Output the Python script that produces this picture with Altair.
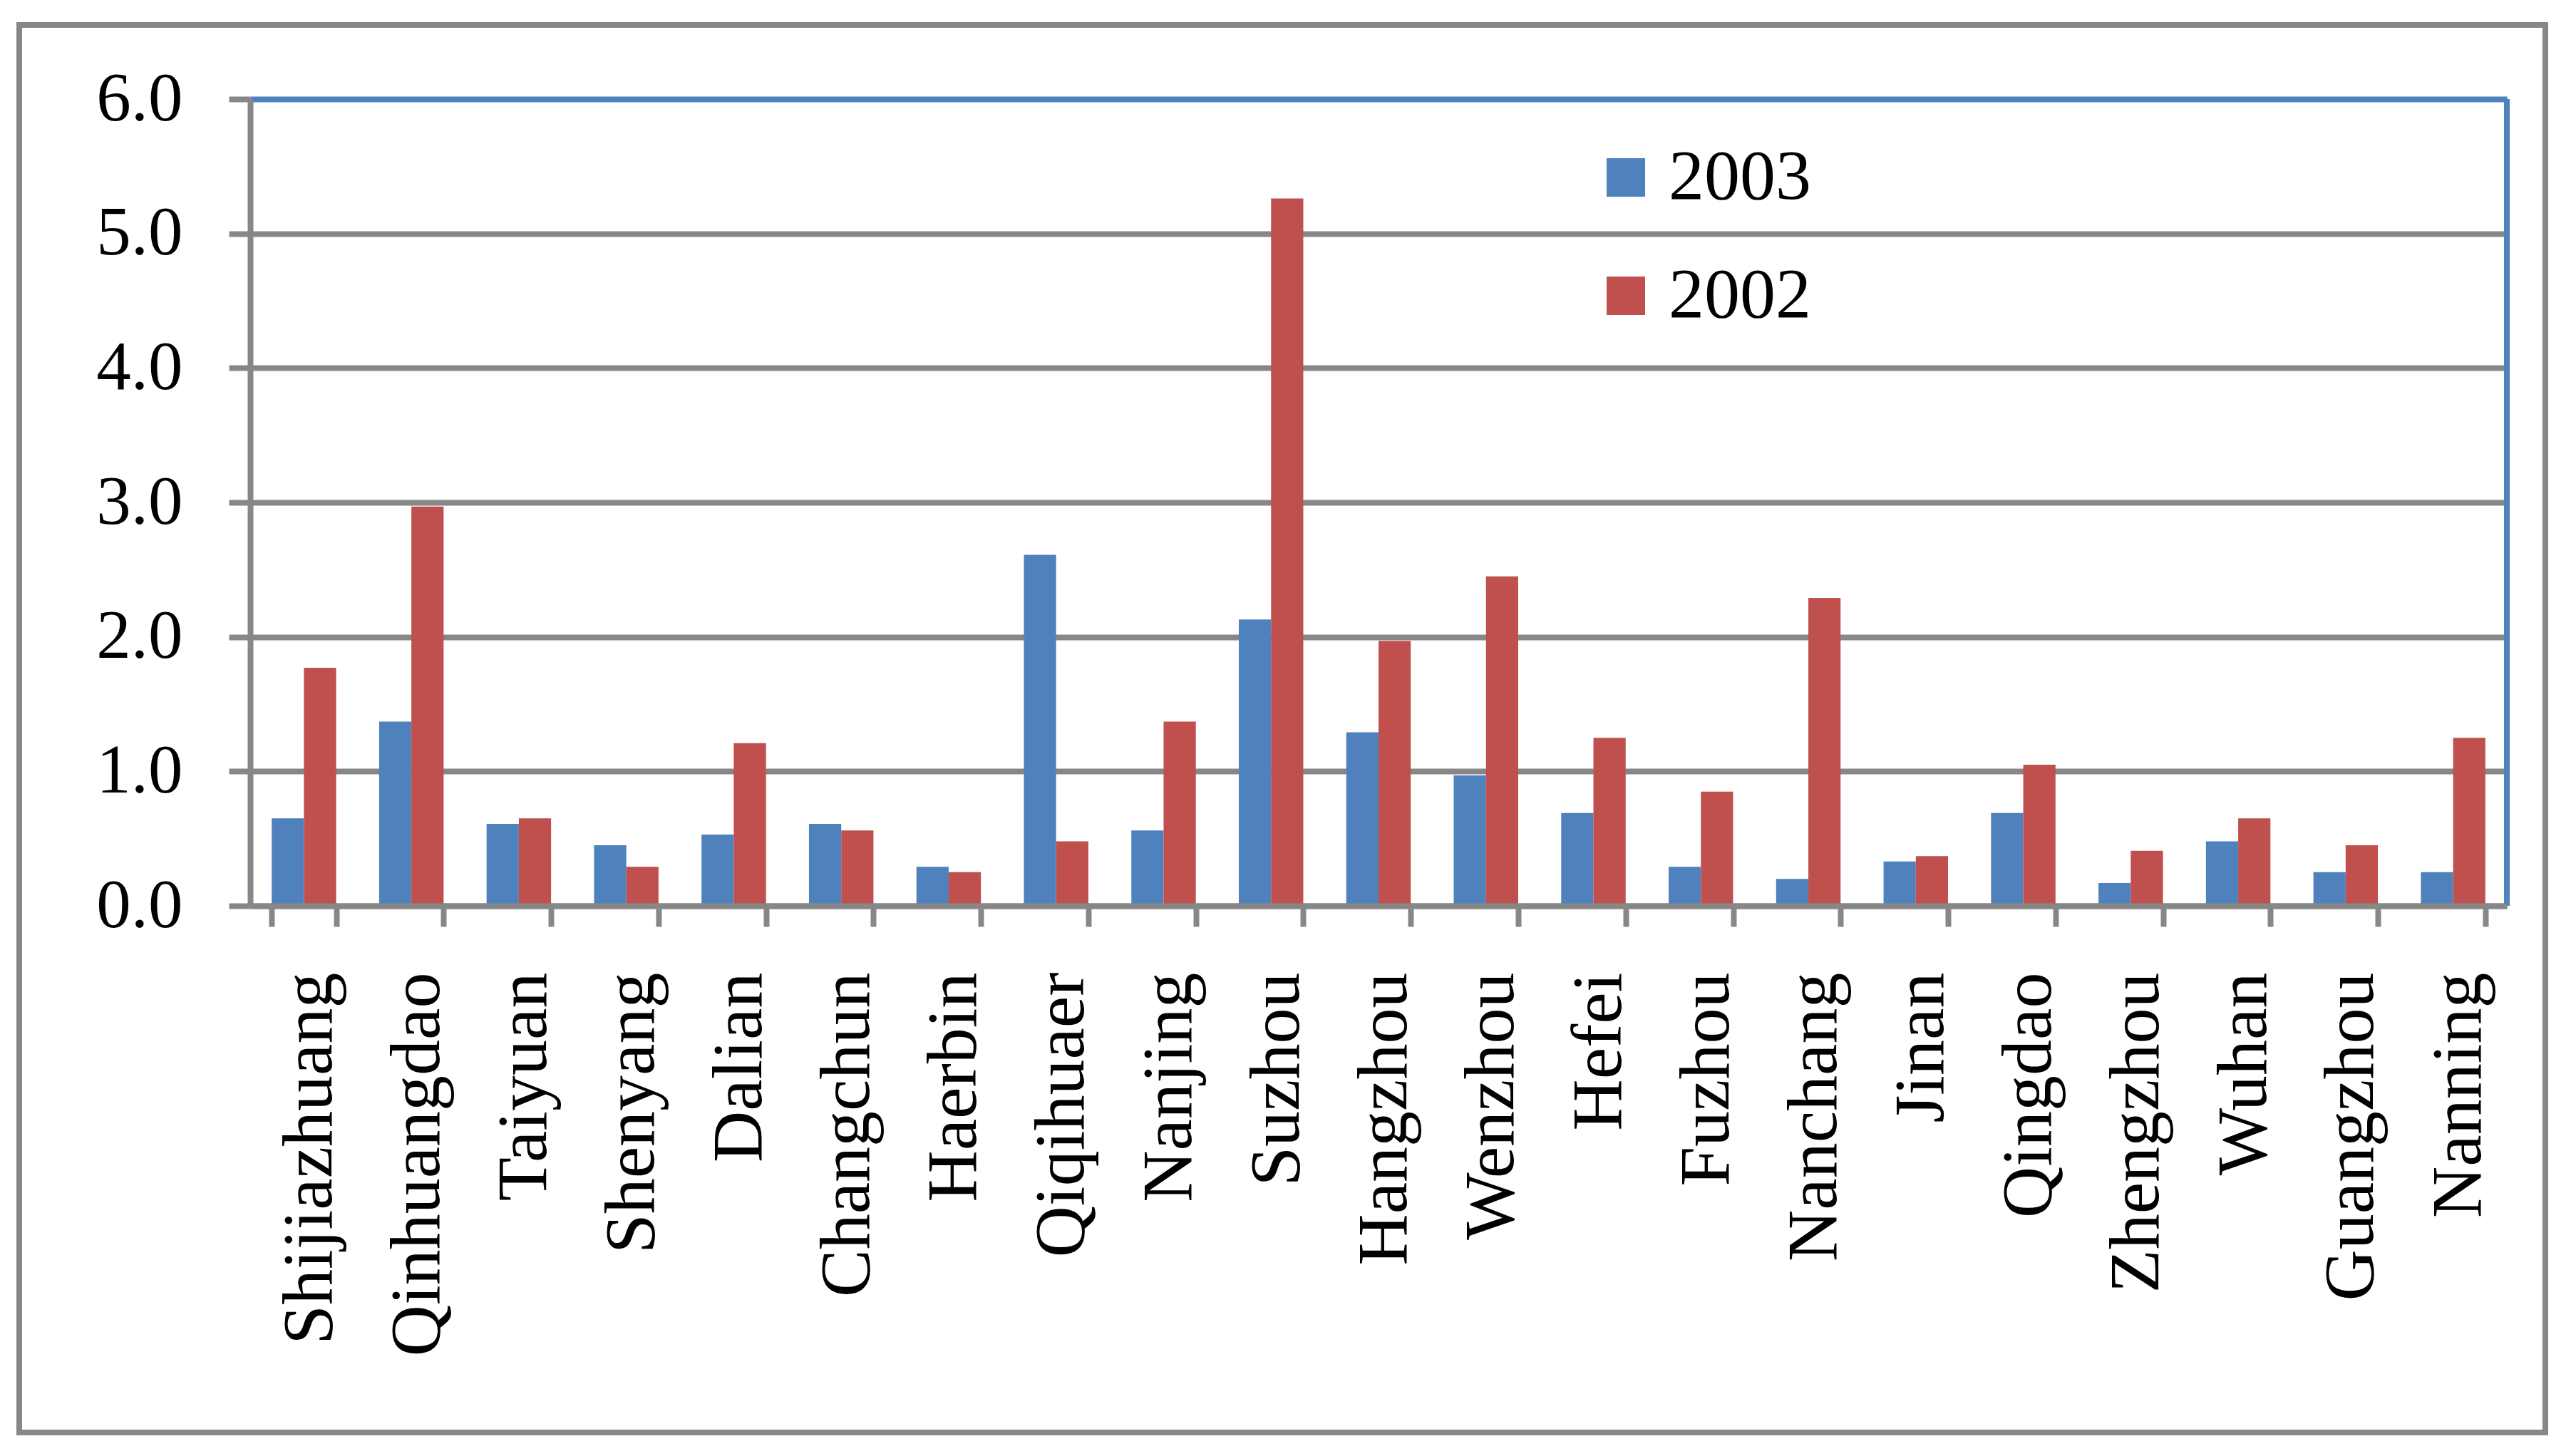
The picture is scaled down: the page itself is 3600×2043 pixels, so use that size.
import altair as alt
import pandas as pd

cities = ["Shijiazhuang", "Qinhuangdao", "Taiyuan", "Shenyang", "Dalian", "Changchun",
          "Haerbin", "Qiqihuaer", "Nanjing", "Suzhou", "Hangzhou", "Wenzhou", "Hefei",
          "Fuzhou", "Nanchang", "Jinan", "Qingdao", "Zhengzhou", "Wuhan", "Guangzhou", "Nanning"]
v2003 = [0.65, 1.37, 0.61, 0.45, 0.53, 0.61, 0.29, 2.61, 0.56, 2.13, 1.29, 0.97, 0.69,
         0.29, 0.20, 0.33, 0.69, 0.17, 0.48, 0.25, 0.25]
v2002 = [1.77, 2.97, 0.65, 0.29, 1.21, 0.56, 0.25, 0.48, 1.37, 5.26, 1.97, 2.45, 1.25,
         0.85, 2.29, 0.37, 1.05, 0.41, 0.65, 0.45, 1.25]
series = ["2003", "2002"]
y_ticks = [0, 1, 2, 3, 4, 5, 6]

BLUE = "#4f81bd"
RED = "#c0504d"
GRAY = "#878787"
FONT = "Liberation Serif"

rows = []
for c, a, b in zip(cities, v2003, v2002):
    rows.append({"city": c, "series": "2003", "value": a})
    rows.append({"city": c, "series": "2002", "value": b})
df = pd.DataFrame(rows)

W, H = 3166, 1132
LW = 8

bars = alt.Chart(df).mark_bar().encode(
    x=alt.X("city:N", sort=cities,
            scale=alt.Scale(paddingInner=0.4, paddingOuter=0.2),
            axis=alt.Axis(title=None, labelAngle=270, labelFont=FONT, labelFontSize=100,
                          labelColor="black", labelPadding=64, labelLimit=0, labelOffset=8,
                          labelOverlap=False, tickSize=29, tickWidth=LW, tickColor=GRAY,
                          domainColor=GRAY, domainWidth=LW, tickBand="extent", zindex=1)),
    xOffset=alt.XOffset("series:N", sort=series, scale=alt.Scale(domain=series)),
    y=alt.Y("value:Q", scale=alt.Scale(domain=[0, 6], nice=False),
            axis=alt.Axis(title=None, values=y_ticks, format=".1f", labelFont=FONT,
                          labelFontSize=97, labelColor="black", labelPadding=65,
                          tickSize=30, tickWidth=LW, tickColor=GRAY, domainColor=GRAY,
                          domainWidth=LW, grid=True, gridWidth=LW,
                          gridColor={"condition": {"test": "datum.value == 6", "value": BLUE},
                                     "value": GRAY})),
    color=alt.Color("series:N", sort=series,
                    scale=alt.Scale(domain=series, range=[BLUE, RED]),
                    legend=alt.Legend(title=None, orient="none", legendX=1880, legendY=60,
                                      symbolType="square", symbolSize=2916,
                                      symbolStrokeWidth=0, symbolOpacity=1,
                                      labelFont=FONT, labelFontSize=100, labelColor="black",
                                      labelOffset=10, labelLimit=0, rowPadding=66, padding=0)),
)

one = pd.DataFrame({"k": [0]})
outer = alt.Chart(one).mark_rect(fill=None, stroke=GRAY, strokeWidth=LW).encode(
    x=alt.value(-324), x2=alt.value(3220), y=alt.value(-104), y2=alt.value(1871))
right_border = alt.Chart(one).mark_rule(color=BLUE, strokeWidth=LW).encode(
    x=alt.value(W), y=alt.value(0), y2=alt.value(H))

chart = alt.layer(outer, bars, right_border).properties(
    width=W, height=H,
    padding={"left": 343, "top": 131, "right": 70, "bottom": 760},
    autosize=alt.AutoSizeParams(type="none"),
).configure_view(stroke=None).configure(background="white")

chart.save("out.html", embed_options={"renderer": "svg", "actions": False})
